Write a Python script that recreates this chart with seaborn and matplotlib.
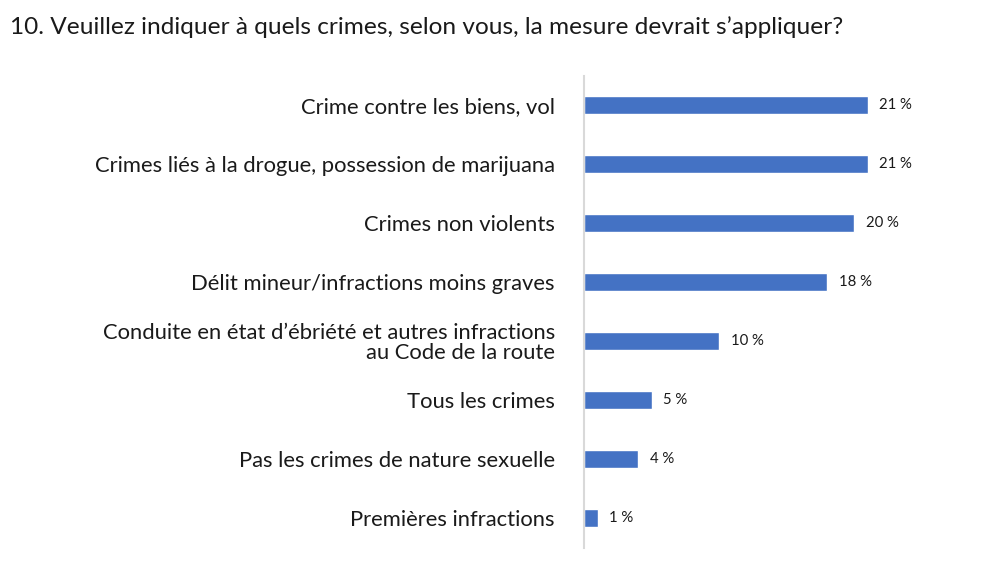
import matplotlib
matplotlib.use("Agg")
import matplotlib.pyplot as plt
import seaborn as sns
import pandas as pd

categories = [
    "Crime contre les biens, vol",
    "Crimes liés à la drogue, possession de marijuana",
    "Crimes non violents",
    "Délit mineur/infractions moins graves",
    "Conduite en état d’ébriété et autres infractions\nau Code de la route",
    "Tous les crimes",
    "Pas les crimes de nature sexuelle",
    "Premières infractions",
]
values = [21, 21, 20, 18, 10, 5, 4, 1]
value_labels = ["21 %", "21 %", "20 %", "18 %", "10 %", "5 %", "4 %", "1 %"]
title = "10. Veuillez indiquer à quels crimes, selon vous, la mesure devrait s’appliquer?"

sns.set_theme(style="white")
plt.rcParams["font.family"] = ["Lato", "DejaVu Sans"]

df = pd.DataFrame({"cat": categories, "val": values})

fig = plt.figure(figsize=(10, 5.84), dpi=100)
ax = fig.add_axes([0.584, 0.0625, 0.405, 0.8082])
sns.barplot(data=df, x="val", y="cat", orient="h", color="#4472C4",
            width=0.32, saturation=1, ax=ax)
ax.set_xlim(0, 30)
ax.set_ylim(7.5, -0.5)
ax.set_xlabel("")
ax.set_ylabel("")
ax.set_xticks([])
for s in ["top", "right", "bottom"]:
    ax.spines[s].set_visible(False)
ax.spines["left"].set_color("#d9d9d9")
ax.spines["left"].set_linewidth(1.5)
ax.tick_params(axis="y", length=0, pad=21, labelsize=15.8, labelcolor="#1a1a1a")
for lbl in ax.get_yticklabels():
    lbl.set_horizontalalignment("right")
    lbl.set_multialignment("right")
    lbl.set_linespacing(1.0)

for i, (v, t) in enumerate(zip(values, value_labels)):
    ax.annotate(t, xy=(v, i), xytext=(8.5, 0), textcoords="offset points",
                ha="left", va="center", fontsize=10.7, color="#1a1a1a")

fig.text(0.01, 0.953, title, ha="left", va="center", fontsize=17.6, color="#1a1a1a")

fig.savefig("out.png", dpi=100)
